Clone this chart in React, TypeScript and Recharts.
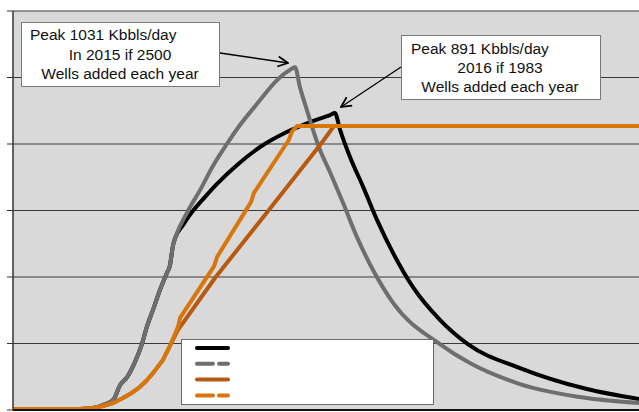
import React from 'react';
import { LineChart, Line, XAxis, YAxis, CartesianGrid } from 'recharts';

// [year, Kbbls/day]
const blackLine: [number, number][] = [
  [2008.0, 3], [2009.63, 3], [2009.95, 6], [2010.19, 15], [2010.44, 30], [2010.61, 75],
  [2010.78, 99], [2010.97, 144], [2011.14, 198], [2011.26, 250], [2011.41, 301],
  [2011.58, 361], [2011.75, 412], [2011.82, 433], [2011.9, 496], [2011.95, 517],
  [2012.14, 556], [2012.36, 595], [2012.68, 641], [2012.97, 680], [2013.46, 737],
  [2014.02, 791], [2014.67, 836], [2015.24, 866], [2015.72, 887], [2015.84, 893],
  [2015.97, 842], [2016.21, 761], [2016.53, 671], [2016.87, 571], [2017.26, 472],
  [2017.74, 370], [2018.4, 271], [2019.08, 198], [2020.35, 126], [2021.98, 63],
  [2023.25, 33],
];

const grayLine: [number, number][] = [
  [2008.0, 3], [2009.63, 3], [2009.95, 6], [2010.19, 15], [2010.44, 30], [2010.61, 75],
  [2010.78, 99], [2010.97, 144], [2011.14, 198], [2011.26, 250], [2011.41, 301],
  [2011.58, 361], [2011.75, 412], [2011.82, 433], [2011.9, 496], [2011.95, 517],
  [2012.26, 598], [2012.56, 662], [2012.87, 734], [2013.21, 800], [2013.53, 857],
  [2013.94, 920], [2014.48, 998], [2014.7, 1019], [2014.87, 1031], [2014.99, 971],
  [2015.16, 902], [2015.31, 842], [2015.48, 782], [2015.72, 716], [2016.04, 623],
  [2016.38, 520], [2016.77, 421], [2017.26, 322], [2018.4, 198], [2019.13, 141],
  [2020.35, 78], [2021.98, 36], [2023.25, 21],
];

const darkOrangeLine: [number, number][] = [
  [2008.0, 3], [2009.63, 3], [2009.95, 6], [2010.19, 12], [2010.44, 21], [2010.68, 36],
  [2010.9, 52], [2011.09, 69], [2011.25, 88], [2011.41, 111], [2011.65, 150],
  [2011.82, 192], [2012.02, 241], [2012.92, 397], [2014.21, 598], [2015.5, 800],
  [2015.82, 854], [2023.25, 854],
];

const lightOrangeLine: [number, number][] = [
  [2008.0, 3], [2009.63, 3], [2009.95, 6], [2010.19, 12], [2010.44, 21], [2010.68, 36],
  [2010.9, 52], [2011.09, 69], [2011.25, 88], [2011.41, 111], [2011.65, 150],
  [2011.82, 192], [2012.02, 250], [2012.07, 277], [2012.9, 433], [2012.97, 460],
  [2013.8, 626], [2013.87, 653], [2014.72, 812], [2014.8, 839], [2014.92, 854],
  [2023.25, 854],
];

const yTicks = [0, 200, 400, 600, 800, 1000, 1200];

const toPoints = (pts: [number, number][]) => pts.map(([year, value]) => ({ year, value }));

const legendItems = [
  { color: '#000000', dash: undefined },
  { color: '#6e6e6e', dash: '16 6' },
  { color: '#b65a12', dash: undefined },
  { color: '#d8760e', dash: '16 6' },
];

const textStyle = { fontFamily: 'Liberation Sans, Arial, sans-serif', fontSize: 15.5, fill: '#111' };

export default function App() {
  return (
    <div style={{ position: 'absolute', left: 0, top: 0, width: 639, height: 412, background: '#fff' }}>
      <LineChart width={639} height={412} margin={{ top: 11, right: 0, bottom: 0, left: 0 }}>
        <CartesianGrid vertical={false} stroke="#3a3a3a" fill="#d9d9d9" fillOpacity={1} />
        <XAxis
          dataKey="year"
          type="number"
          domain={[2008, 2023.25]}
          allowDataOverflow
          height={2}
          tick={false}
          tickLine={false}
          axisLine={{ stroke: '#111', strokeWidth: 2 }}
        />
        <YAxis
          type="number"
          domain={[0, 1200]}
          ticks={yTicks}
          width={13}
          tickSize={6}
          tickFormatter={() => ''}
          axisLine={{ stroke: '#333', strokeWidth: 1.5 }}
          tickLine={{ stroke: '#333' }}
        />
        <Line data={toPoints(blackLine)} dataKey="value" type="monotoneX" stroke="#000000" strokeWidth={4} dot={false} isAnimationActive={false} />
        <Line data={toPoints(grayLine)} dataKey="value" type="monotoneX" stroke="#6e6e6e" strokeWidth={4} dot={false} isAnimationActive={false} />
        <Line data={toPoints(darkOrangeLine)} dataKey="value" type="linear" stroke="#b65a12" strokeWidth={4} strokeLinejoin="round" dot={false} isAnimationActive={false} />
        <Line data={toPoints(lightOrangeLine)} dataKey="value" type="linear" stroke="#d8760e" strokeWidth={4} strokeLinejoin="round" dot={false} isAnimationActive={false} />
      </LineChart>

      <svg width={639} height={412} style={{ position: 'absolute', left: 0, top: 0, pointerEvents: 'none' }}>
        <defs>
          <marker id="arrow" viewBox="0 0 10 10" refX="9" refY="5" markerWidth="9" markerHeight="9" orient="auto">
            <path d="M1,1 L9,5 L1,9" fill="none" stroke="#000" strokeWidth="1.4" />
          </marker>
        </defs>

        <rect x={21.5} y={22.5} width={198} height={64} fill="#fff" stroke="#7a7a7a" />
        <text x={30} y={40} style={textStyle}>Peak 1031 Kbbls/day</text>
        <text x={120} y={60} textAnchor="middle" style={textStyle}>In 2015 if 2500</text>
        <text x={120} y={79} textAnchor="middle" style={textStyle}>Wells added each year</text>
        <line x1={220} y1={53} x2={288} y2={63} stroke="#000" strokeWidth={1.4} markerEnd="url(#arrow)" />

        <rect x={401.5} y={35.5} width={199} height={64} fill="#fff" stroke="#7a7a7a" />
        <text x={411} y={54} style={textStyle}>Peak 891 Kbbls/day</text>
        <text x={500} y={73} textAnchor="middle" style={textStyle}>2016 if 1983</text>
        <text x={500} y={92} textAnchor="middle" style={textStyle}>Wells added each year</text>
        <line x1={401} y1={67} x2={341} y2={107} stroke="#000" strokeWidth={1.4} markerEnd="url(#arrow)" />

        <rect x={181.5} y={339.5} width={252} height={65} fill="#fff" stroke="#6a6a6a" />
        {legendItems.map((item, i) => (
          <line
            key={i}
            x1={197}
            x2={228}
            y1={348 + i * 15.8}
            y2={348 + i * 15.8}
            stroke={item.color}
            strokeWidth={4}
            strokeLinecap="round"
            strokeDasharray={item.dash}
          />
        ))}
      </svg>
    </div>
  );
}
